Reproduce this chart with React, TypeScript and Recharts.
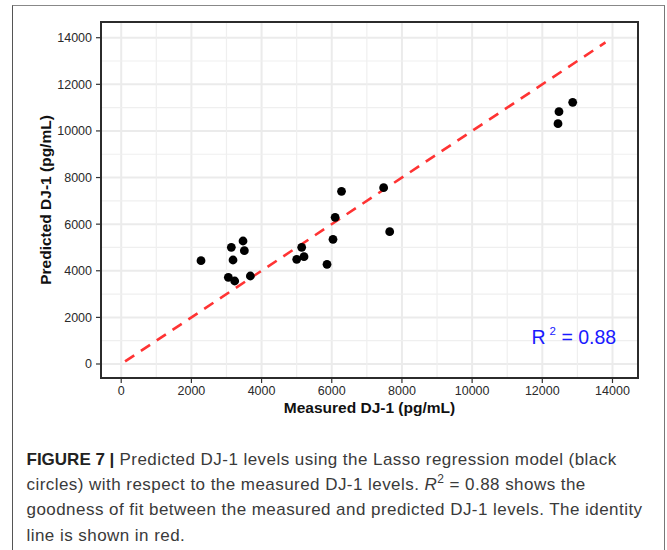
import React from 'react';
import {
  ScatterChart,
  Scatter,
  XAxis,
  YAxis,
  CartesianGrid,
  ReferenceLine,
  ReferenceDot,
} from 'recharts';

// ---- data ----
const measured = [2274, 3138, 3186, 3471, 3509, 3053, 3234, 3680, 5001, 5143, 5209, 5865, 6035, 6096, 6278, 7478, 7651, 12447, 12475, 12866];
const predicted = [4432, 5007, 4462, 5277, 4861, 3720, 3561, 3776, 4492, 5007, 4604, 4278, 5350, 6292, 7407, 7565, 5676, 10310, 10825, 11228];

const xTicks = [0, 2000, 4000, 6000, 8000, 10000, 12000, 14000];
const yTicks = [0, 2000, 4000, 6000, 8000, 10000, 12000, 14000];
const xMinor = [1000, 3000, 5000, 7000, 9000, 11000, 13000];
const yMinor = [1000, 3000, 5000, 7000, 9000, 11000, 13000];

const xDomain = [-576, 14727];
const yDomain = [-601, 14674];

const identityRange = [110, 13800];
const r2Value = '0.88';
const r2Anchor = [11692, 858];

const xTitle = 'Measured DJ-1 (pg/mL)';
const yTitle = 'Predicted DJ-1 (pg/mL)';

const captionBold = 'FIGURE 7 |';
const captionLines = [
  ' Predicted DJ-1 levels using the Lasso regression model (black',
  'circles) with respect to the measured DJ-1 levels. ',
  'goodness of fit between the measured and predicted DJ-1 levels. The identity',
  'line is shown in red.',
];

const data = measured.map((m, i) => ({ x: m, y: predicted[i] }));

const FONT = '"Liberation Sans", Arial, Helvetica, sans-serif';

const CHART_W = 667;
const CHART_H = 430;
const MARGIN = { top: 21, right: 28, left: 0, bottom: 0 };
const Y_AXIS_W = 101;
const X_AXIS_H = 52;

const XTitle = (props: any) => {
  const vb = props.viewBox || { x: 101, width: 537 };
  return (
    <text x={vb.x + vb.width / 2} y={412.5} textAnchor="middle" fontSize={15.5} fontWeight="bold" fill="#111" fontFamily={FONT}>
      {xTitle}
    </text>
  );
};

const YTitle = (props: any) => {
  const vb = props.viewBox || { y: 22, height: 356 };
  const cy = vb.y + vb.height / 2;
  return (
    <text x={51} y={cy} transform={`rotate(-90, 51, ${cy})`} textAnchor="middle" fontSize={15.5} fontWeight="bold" fill="#111" fontFamily={FONT}>
      {yTitle}
    </text>
  );
};

const R2Label = (props: any) => {
  const vb = props.viewBox || { x: 0, y: 0 };
  return (
    <text x={vb.x} y={vb.y} fill="#1a1aff" fontSize={19.5} fontFamily={FONT}>
      R
      <tspan dx={4} dy={-9} fontSize={11.5}>2</tspan>
      <tspan dy={9} fontSize={19.5}>{' = ' + r2Value}</tspan>
    </text>
  );
};

const Dot = (props: any) => {
  const { cx, cy } = props;
  if (cx == null || cy == null) return null;
  return <circle cx={cx} cy={cy} r={4.4} fill="#000" />;
};

const axisLineStyle = { stroke: '#2b2b2b', strokeWidth: 2 };

export default function App() {
  const plotLeft = 101;
  const plotTop = 22;
  const plotW = 537;
  const plotH = 356;
  return (
    <div style={{ position: 'absolute', left: 0, top: 0, width: 667, height: 550, overflow: 'hidden', background: '#fff', fontFamily: FONT }}>
      <div
        style={{
          position: 'absolute',
          left: 12,
          top: 5,
          width: 652.5,
          height: 545,
          boxSizing: 'border-box',
          borderLeft: '1px solid #555',
          borderTop: '1px solid #888',
          borderRight: '1px solid #777',
        }}
      />
      <div style={{ position: 'absolute', left: 0, top: 0, zIndex: 1 }}>
        <ScatterChart width={CHART_W} height={CHART_H} margin={MARGIN}>
          <CartesianGrid stroke="#ebebeb" strokeWidth={2} />
          <XAxis
            type="number"
            dataKey="x"
            domain={xDomain}
            ticks={xTicks}
            allowDataOverflow
            axisLine={axisLineStyle}
            tickLine={{ stroke: '#333', strokeWidth: 1.2 }}
            tickSize={5}
            tickMargin={3}
            height={X_AXIS_H}
            tick={{ fontSize: 12.5, fill: '#2a2a2a', fontFamily: FONT }}
            label={{ content: XTitle }}
          />
          <YAxis
            type="number"
            dataKey="y"
            domain={yDomain}
            ticks={yTicks}
            allowDataOverflow
            axisLine={axisLineStyle}
            tickLine={{ stroke: '#333', strokeWidth: 1.2 }}
            tickSize={5}
            tickMargin={4}
            width={Y_AXIS_W}
            tick={{ fontSize: 12.5, fill: '#2a2a2a', fontFamily: FONT }}
            label={{ content: YTitle }}
          />
          <XAxis
            xAxisId="top"
            orientation="top"
            type="number"
            domain={xDomain}
            ticks={xTicks}
            allowDataOverflow
            height={1}
            tick={false}
            tickLine={false}
            axisLine={axisLineStyle}
          />
          <YAxis
            yAxisId="right"
            orientation="right"
            type="number"
            domain={yDomain}
            ticks={yTicks}
            allowDataOverflow
            width={1}
            tick={false}
            tickLine={false}
            axisLine={axisLineStyle}
          />
          {xMinor.map((v) => (
            <ReferenceLine key={'xm' + v} x={v} stroke="#efefef" strokeWidth={1.2} />
          ))}
          {yMinor.map((v) => (
            <ReferenceLine key={'ym' + v} y={v} stroke="#efefef" strokeWidth={1.2} />
          ))}
          <ReferenceLine
            segment={[
              { x: identityRange[0], y: identityRange[0] },
              { x: identityRange[1], y: identityRange[1] },
            ]}
            stroke="#ff3333"
            strokeWidth={2.6}
            strokeDasharray="11 8"
            ifOverflow="visible"
          />
          <Scatter data={data} fill="#000" shape={Dot} isAnimationActive={false} />
          <ReferenceDot
            x={r2Anchor[0]}
            y={r2Anchor[1]}
            r={0}
            fill="none"
            stroke="none"
            ifOverflow="visible"
            label={{ content: R2Label }}
          />
        </ScatterChart>
      </div>
      {/* panel border */}
      <svg
        width={667}
        height={430}
        style={{ position: 'absolute', left: 0, top: 0, zIndex: 5, pointerEvents: 'none' }}
      >
        <rect x={plotLeft} y={plotTop} width={plotW} height={plotH} fill="none" stroke="#2b2b2b" strokeWidth={2} />
      </svg>
      <div
        style={{
          position: 'absolute',
          left: 26.5,
          top: 446.5,
          fontSize: 17,
          lineHeight: '25.4px',
          letterSpacing: '0.45px',
          color: '#3a3a3a',
          fontFamily: FONT,
          whiteSpace: 'nowrap',
        }}
      >
        <div>
          <span style={{ fontWeight: 'bold', color: '#222', letterSpacing: '0px' }}>{captionBold}</span>
          {captionLines[0]}
        </div>
        <div>
          {captionLines[1]}
          <i>R</i>
          <sup style={{ fontSize: 12, lineHeight: 0 }}>2</sup>
          {' = 0.88 shows the'}
        </div>
        <div>{captionLines[2]}</div>
        <div>{captionLines[3]}</div>
      </div>
    </div>
  );
}
